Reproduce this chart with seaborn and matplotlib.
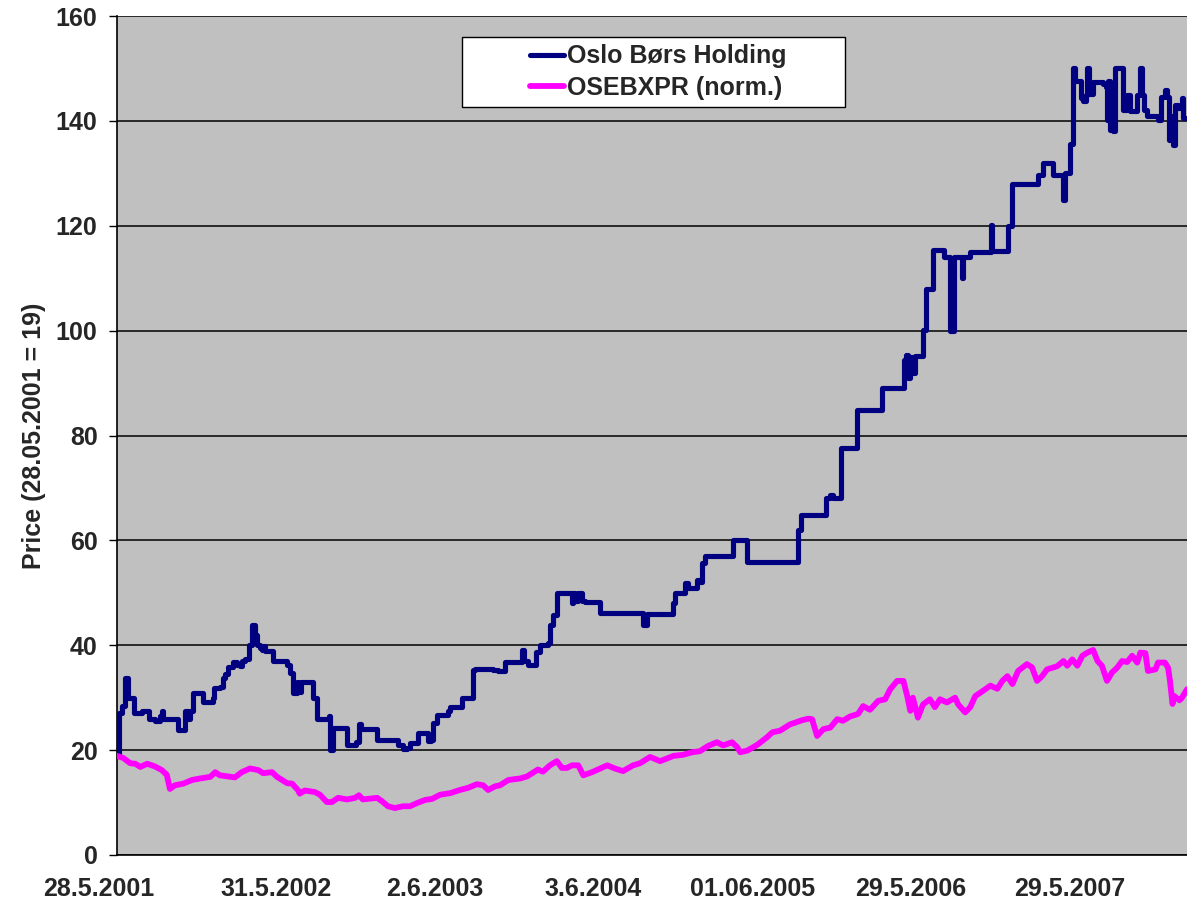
import pandas as pd
import matplotlib
matplotlib.use('Agg')
from matplotlib import pyplot as plt
from matplotlib.patches import Rectangle
from matplotlib.transforms import ScaledTranslation
import seaborn as sns

# trading day index since 28.5.2001 and price, one point per level change
holding_days = [0, 3, 8, 13, 17, 27, 40, 50, 60, 68, 71, 73, 97, 108, 113, 116,
                121, 137, 152, 154, 163, 168, 171, 176, 184, 190, 195, 198, 203,
                210, 214, 219, 222, 227, 230, 232, 235, 248, 270, 275, 279, 286,
                287, 292, 311, 317, 337, 338, 343, 365, 379, 384, 387, 413, 446,
                454, 460, 465, 478, 494, 498, 502, 508, 525, 529, 548, 565, 568,
                597, 605, 616, 643, 646, 652, 665, 671, 684, 687, 692, 698, 722,
                724, 727, 732, 738, 743, 767, 835, 841, 883, 886, 902, 906, 921,
                925, 929, 933, 978, 1000, 1081, 1086, 1125, 1132, 1137, 1149,
                1174, 1214, 1249, 1252, 1256, 1259, 1263, 1267, 1279, 1284, 1295,
                1312, 1322, 1329, 1341, 1343, 1354, 1387, 1389, 1414, 1421, 1462,
                1470, 1486, 1502, 1505, 1513, 1517, 1521, 1529, 1533, 1538, 1540,
                1543, 1549, 1565, 1570, 1571, 1573, 1576, 1579, 1581, 1584, 1597,
                1603, 1608, 1619, 1624, 1627, 1629, 1635, 1652, 1656, 1663, 1667,
                1670, 1673, 1676, 1679, 1684, 1690, 1692, 1698]
holding_price = [19, 27, 28.5, 33.7, 30, 27, 27.5, 26, 25.5, 26.5, 27.5, 26, 23.8,
                 27.5, 26, 27.5, 30.8, 29.2, 30, 31.8, 32, 33.7, 34.5, 35.8, 36.9,
                 36.2, 36, 37, 37.3, 40, 43.8, 42, 40, 39.5, 39, 39.8, 38.9, 37,
                 36.3, 34.7, 30.8, 33, 31, 33, 30, 25.9, 26.5, 20, 24.2, 21, 21.5,
                 25, 24, 22, 21, 20.2, 20.5, 21.4, 23.2, 21.8, 22, 25.1, 26.7,
                 27.5, 28.2, 30, 35.2, 35.5, 35.2, 35, 36.8, 39, 37, 36.2, 38.7,
                 40, 40.4, 43.8, 45.8, 49.9, 48, 50, 48.5, 50, 48.5, 48.2, 46.1,
                 43.8, 46, 48, 49.9, 51.8, 51, 52.5, 52, 55.6, 57.1, 60, 55.8,
                 61.9, 64.8, 68, 68.7, 68, 77.7, 84.8, 89, 94.4, 95.4, 90.9, 95,
                 91.9, 95.1, 100.1, 108, 115.4, 114, 100, 114, 110, 114, 115,
                 120.1, 115.1, 120, 128, 129.7, 132, 129.7, 125, 130, 135.6, 150,
                 147.6, 144.4, 143.8, 145, 150, 145.2, 147.4, 147, 146.5, 140.1,
                 147.6, 138.2, 145, 138, 150, 142, 145, 141.8, 145, 150, 145, 142,
                 141, 140.1, 144.5, 145.8, 144.5, 136.3, 141, 135.4, 143, 142.5,
                 144.4, 140.5, 140.5]

index_days = [0, 10, 21, 29, 37, 48, 60, 71, 79, 84, 92, 105, 119, 132, 148, 156,
              163, 175, 187, 198, 211, 224, 232, 246, 254, 270, 278, 287, 290, 298,
              314, 322, 333, 341, 351, 365, 378, 384, 390, 413, 421, 430, 441, 454,
              465, 476, 489, 500, 513, 529, 544, 557, 571, 581, 589, 600, 608, 621,
              640, 651, 668, 676, 687, 698, 706, 714, 722, 732, 740, 754, 778, 790,
              803, 819, 830, 846, 862, 883, 898, 913, 925, 938, 952, 962, 976, 984,
              989, 1000, 1016, 1032, 1040, 1052, 1068, 1087, 1097, 1103, 1111, 1121,
              1132, 1143, 1152, 1163, 1176, 1184, 1195, 1208, 1219, 1227, 1238,
              1248, 1254, 1259, 1263, 1271, 1279, 1290, 1298, 1306, 1317, 1330,
              1335, 1346, 1354, 1362, 1373, 1386, 1397, 1405, 1413, 1421, 1430,
              1444, 1452, 1460, 1468, 1476, 1492, 1502, 1508, 1516, 1524, 1532,
              1540, 1549, 1556, 1563, 1571, 1579, 1587, 1595, 1603, 1611, 1619,
              1624, 1632, 1636, 1648, 1652, 1663, 1668, 1671, 1675, 1678, 1686,
              1690, 1698]
index_norm = [18.9, 18.5, 17.5, 17.4, 16.8, 17.4, 16.9, 16.2, 15.3, 12.6, 13.3,
              13.6, 14.3, 14.6, 14.9, 15.8, 15.2, 15.0, 14.8, 15.8, 16.5, 16.2,
              15.6, 15.8, 14.9, 13.7, 13.6, 12.4, 11.7, 12.3, 12, 11.5, 10.1, 10.1,
              10.9, 10.6, 10.9, 11.4, 10.6, 10.9, 10.2, 9.3, 8.95, 9.3, 9.3, 9.9,
              10.5, 10.7, 11.5, 11.8, 12.4, 12.8, 13.5, 13.3, 12.4, 13.1, 13.3,
              14.3, 14.6, 15, 16.3, 15.9, 17.1, 17.9, 16.6, 16.6, 17.1, 17.1, 15.2,
              15.8, 17.1, 16.5, 16, 17.1, 17.5, 18.7, 17.9, 18.9, 19.1, 19.6, 19.8,
              20.8, 21.5, 20.9, 21.5, 20.6, 19.6, 19.9, 21, 22.5, 23.4, 23.7, 24.9,
              25.7, 26, 25.9, 22.7, 24.0, 24.3, 25.9, 25.6, 26.4, 26.9, 28.4, 27.7,
              29.4, 29.7, 31.6, 33.2, 33.2, 30.3, 27.5, 30, 26.2, 28.7, 29.7, 28.2,
              29.7, 29.1, 30, 28.7, 27.2, 28.2, 30.3, 31.2, 32.3, 31.7, 33.2, 34.1,
              32.6, 35.1, 36.4, 35.8, 33.2, 34.1, 35.4, 36.0, 37, 36.1, 37.3, 36.1,
              38.0, 38.6, 39.1, 37, 36.1, 33.2, 34.8, 35.7, 37, 36.8, 38, 36.7,
              38.6, 38.5, 35.1, 35.4, 36.7, 36.7, 35.7, 33.2, 28.8, 30.3, 29.5, 30,
              31.6]

tick_days = [0, 252, 504, 756, 1008, 1260, 1512]
tick_labels = ['28.5.2001', '31.5.2002', '2.6.2003', '3.6.2004', '01.06.2005',
               '29.5.2006', '29.5.2007']
y_ticks = [0, 20, 40, 60, 80, 100, 120, 140, 160]

holding = pd.DataFrame({'day': holding_days, 'price': holding_price})
osebx = pd.DataFrame({'day': index_days, 'price': index_norm})

sns.set_theme(style='white')
plt.rcParams['font.family'] = ['Liberation Sans', 'DejaVu Sans']
plt.rcParams['font.weight'] = 'bold'

fig = plt.figure(figsize=(11.87, 9.09), dpi=100)
ax = fig.add_axes([117 / 1187, 54 / 909, 1070 / 1187, 839 / 909])
ax.set_facecolor('#C0C0C0')

sns.lineplot(data=holding, x='day', y='price', ax=ax, color='#000080', lw=3.7,
             drawstyle='steps-post', estimator=None, sort=False,
             label='Oslo Børs Holding', zorder=3,
             solid_joinstyle='round', solid_capstyle='round')
sns.lineplot(data=osebx, x='day', y='price', ax=ax, color='#FF00FF', lw=4.2,
             estimator=None, sort=False, label='OSEBXPR (norm.)', zorder=3,
             solid_joinstyle='round', solid_capstyle='round')

ax.set_xlim(0, 1698)
ax.set_ylim(0, 160)
ax.set_yticks(y_ticks)
ax.set_xticks(tick_days)
ax.set_xticklabels(tick_labels)
ax.yaxis.grid(True, color='black', lw=1.1)
ax.set_axisbelow(True)

ax.tick_params(axis='y', direction='out', length=6, width=1, color='black',
               pad=8, labelsize=18, left=True)
ax.tick_params(axis='x', length=0, pad=16, labelsize=18)
for lab in ax.get_xticklabels() + ax.get_yticklabels():
    lab.set_fontweight('bold')
# first date label sits a bit left of the axis start, as in the original
first = ax.get_xticklabels()[0]
first.set_transform(first.get_transform() + ScaledTranslation(-0.18, 0, fig.dpi_scale_trans))

ax.set_xlabel('')
ax.set_ylabel('Price (28.05.2001 = 19)', fontsize=18, fontweight='bold', labelpad=7)

for side in ['top', 'right']:
    ax.spines[side].set_visible(False)
for side in ['left', 'bottom']:
    ax.spines[side].set_color('black')
    ax.spines[side].set_linewidth(1.2)

# legend box
ax.add_patch(Rectangle((0.322, 0.891), 0.358, 0.084, transform=ax.transAxes,
                       facecolor='white', edgecolor='black', lw=1, zorder=4))
leg = ax.legend(loc='center', bbox_to_anchor=(0.506, 0.933), frameon=False,
                handlelength=1.35, handletextpad=0.15,
                labelspacing=0.3, prop={'weight': 'bold', 'size': 18})
leg.set_zorder(5)

fig.savefig('out.png', dpi=100, facecolor='white')
